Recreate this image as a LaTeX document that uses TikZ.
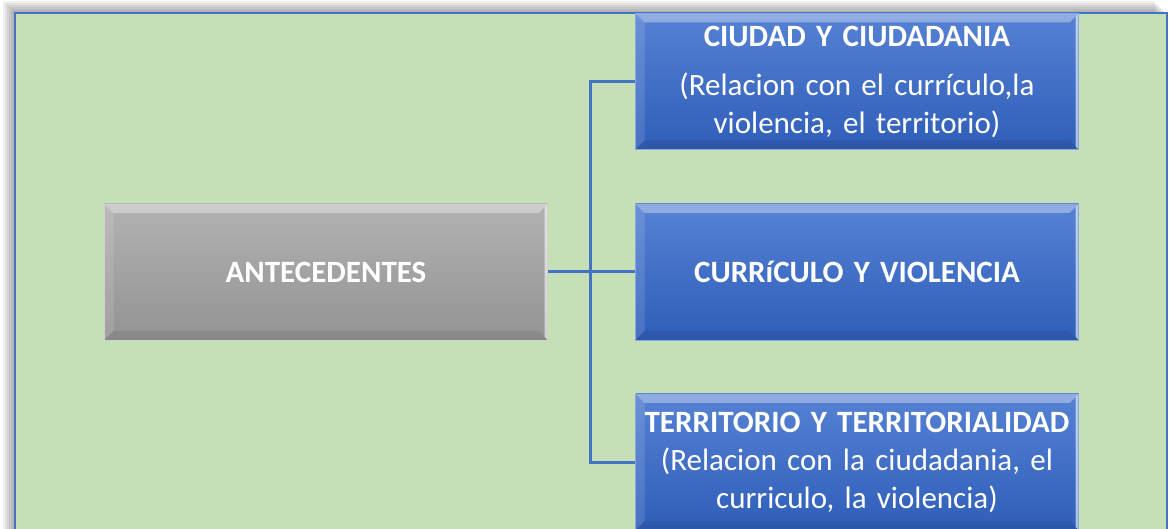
\documentclass[tikz,border=0pt]{standalone}
\usepackage{fontspec}
\setmainfont{Carlito}
\usetikzlibrary{calc}
\definecolor{fondo}{HTML}{C5E0B4}
\definecolor{marco}{HTML}{4472C4}
\definecolor{azularriba}{HTML}{5682D4}
\definecolor{azulabajo}{HTML}{2F5EB9}
\definecolor{grisarriba}{HTML}{B2B2B2}
\definecolor{grisabajo}{HTML}{939393}
\tikzset{
	bisel/.style={path picture={
		\fill[white,opacity=0.35] (path picture bounding box.north west) -- (path picture bounding box.north east) -- ([xshift=-9pt,yshift=-9pt]path picture bounding box.north east) -- ([xshift=9pt,yshift=-9pt]path picture bounding box.north west) -- cycle;
		\fill[white,opacity=0.12] (path picture bounding box.north west) -- ([xshift=9pt,yshift=-9pt]path picture bounding box.north west) -- ([xshift=9pt,yshift=9pt]path picture bounding box.south west) -- (path picture bounding box.south west) -- cycle;
		\fill[white,opacity=0.6] (path picture bounding box.north east) -- ([xshift=-3pt,yshift=-3pt]path picture bounding box.north east) -- ([xshift=-3pt,yshift=3pt]path picture bounding box.south east) -- (path picture bounding box.south east) -- cycle;
		\fill[black,opacity=0.08] (path picture bounding box.south west) -- (path picture bounding box.south east) -- ([xshift=-9pt,yshift=9pt]path picture bounding box.south east) -- ([xshift=9pt,yshift=9pt]path picture bounding box.south west) -- cycle;
	}},
	caja/.style={bisel, minimum width=443pt, minimum height=136pt, text width=440pt, align=center, inner sep=0pt, text=white, font=\fontsize{31}{38}\selectfont, top color=azularriba, bottom color=azulabajo, draw=azularriba!70!white, line width=0.6pt},
	cajagris/.style={caja, top color=grisarriba, bottom color=grisabajo, draw=grisarriba!60!white, font=\fontsize{31}{38}\selectfont\bfseries},
	enlace/.style={draw=marco, line width=3pt}
}

\begin{document}
\begin{tikzpicture}[x=1pt,y=-1pt]
	%%%%% START %%%%%
	\clip (0, 0) rectangle (1171, 529);
	\fill[white] (0, 0) rectangle (1171, 529);
	
	% sombra del marco
	\foreach \s in {2,4,...,12}
		\fill[black,opacity=0.06] (15-\s, 13-\s) rectangle (1167-\s, 560);
	\draw[fill=fondo, draw=marco, line width=2.2pt] (15, 13) rectangle (1167, 560);
	
	\node[cajagris] (ant) at (326, 272) {ANTECEDENTES};
	
	\node[caja] (ciudad) at (857, 81.5) {\textbf{CIUDAD Y CIUDADANIA}\\[11pt](Relacion con el currículo,la\\violencia, el territorio)};
	\node[caja, font=\fontsize{31}{38}\selectfont\bfseries] (curri) at (857, 272) {CURRíCULO Y VIOLENCIA};
	\node[caja] (terri) at (857, 462) {\textbf{TERRITORIO Y TERRITORIALIDAD}\\(Relacion con la ciudadania, el\\curriculo, la violencia)};
	
	\coordinate (rama) at ($(ant.east)+(43, 0)$);
	\draw[enlace] (ant.east) -- (curri.west);
	\draw[enlace] (rama) |- (ciudad.west);
	\draw[enlace] (rama) |- (terri.west);
	%%%%% END %%%%%
\end{tikzpicture}
\end{document}
